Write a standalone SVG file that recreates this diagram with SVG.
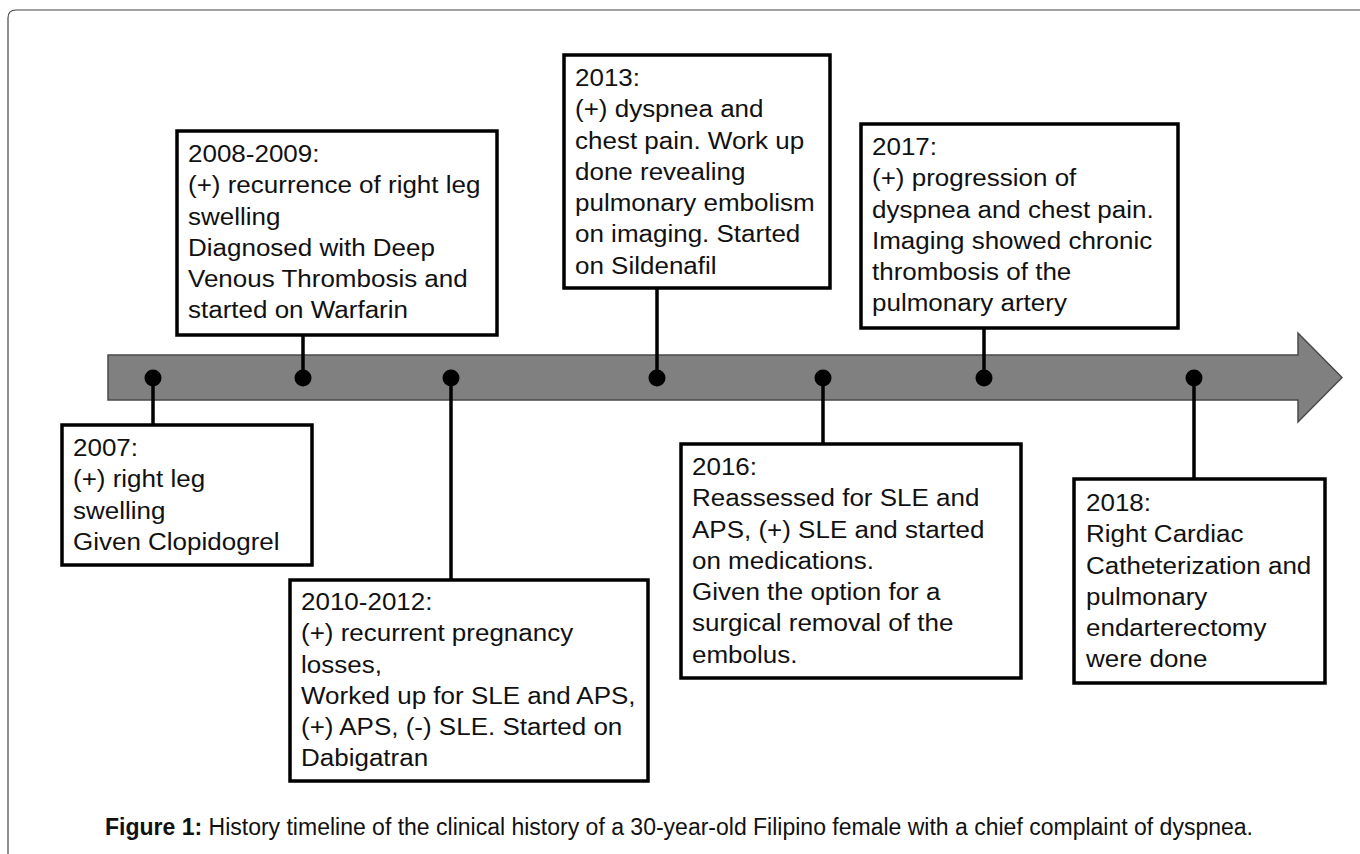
<svg xmlns="http://www.w3.org/2000/svg" width="1360" height="854" viewBox="0 0 1360 854">
<style>
.box{fill:#fff;stroke:#000;stroke-width:3.5}
.t{font-family:"Liberation Sans",Arial,sans-serif;font-size:23px;fill:#111}
.conn line{stroke:#000;stroke-width:3.5}
.dot{fill:#000}
.cap{font-family:"Liberation Sans",Arial,sans-serif;font-size:23px;fill:#111}
</style>
<rect width="1360" height="854" fill="#fff"/>
<path d="M8,854 L8,18 Q8,10 16,10 L1366,10" fill="none" stroke="#444" stroke-width="1.2"/>
<g id="timeline-arrow">
<polygon points="108,355 1298,355 1298,333 1342,377.5 1298,422 1298,400 108,400" fill="#808080" stroke="#4a4a4a" stroke-width="1.5"/>
</g>
<g id="connectors" class="conn">
<line x1="153" y1="378" x2="153" y2="425"/>
<line x1="303" y1="335" x2="303" y2="378"/>
<line x1="451" y1="378" x2="451" y2="580"/>
<line x1="657" y1="288" x2="657" y2="378"/>
<line x1="823" y1="378" x2="823" y2="444"/>
<line x1="984" y1="328" x2="984" y2="378"/>
<line x1="1194" y1="378" x2="1194" y2="479"/>
<circle class="dot" cx="153" cy="378" r="8.5"/>
<circle class="dot" cx="303" cy="378" r="8.5"/>
<circle class="dot" cx="451" cy="378" r="8.5"/>
<circle class="dot" cx="657" cy="378" r="8.5"/>
<circle class="dot" cx="823" cy="378" r="8.5"/>
<circle class="dot" cx="984" cy="378" r="8.5"/>
<circle class="dot" cx="1194" cy="378" r="8.5"/>
</g>
<g id="n2007">
<rect class="box" x="62" y="425" width="250" height="140"/>
<text class="t" transform="translate(73,0) scale(1.13,1)"><tspan x="0" y="456">2007:</tspan><tspan x="0" y="487.3">(+) right leg</tspan><tspan x="0" y="518.6">swelling</tspan><tspan x="0" y="549.9">Given Clopidogrel</tspan></text>
</g>
<g id="n2008">
<rect class="box" x="177" y="131" width="320" height="204"/>
<text class="t" transform="translate(188,0) scale(1.13,1)"><tspan x="0" y="162">2008-2009:</tspan><tspan x="0" y="193.3">(+) recurrence of right leg</tspan><tspan x="0" y="224.6">swelling</tspan><tspan x="0" y="255.9">Diagnosed with Deep</tspan><tspan x="0" y="287.2">Venous Thrombosis and</tspan><tspan x="0" y="318.5">started on Warfarin</tspan></text>
</g>
<g id="n2010">
<rect class="box" x="290" y="580" width="358" height="201"/>
<text class="t" transform="translate(301,0) scale(1.13,1)"><tspan x="0" y="610">2010-2012:</tspan><tspan x="0" y="641.3">(+) recurrent pregnancy</tspan><tspan x="0" y="672.6">losses,</tspan><tspan x="0" y="703.9">Worked up for SLE and APS,</tspan><tspan x="0" y="735.2">(+) APS, (-) SLE. Started on</tspan><tspan x="0" y="766.5">Dabigatran</tspan></text>
</g>
<g id="n2013">
<rect class="box" x="564" y="55" width="266" height="233"/>
<text class="t" transform="translate(575,0) scale(1.13,1)"><tspan x="0" y="86">2013:</tspan><tspan x="0" y="117.3">(+) dyspnea and</tspan><tspan x="0" y="148.6">chest pain. Work up</tspan><tspan x="0" y="179.9">done revealing</tspan><tspan x="0" y="211.2">pulmonary embolism</tspan><tspan x="0" y="242.5">on imaging. Started</tspan><tspan x="0" y="273.8">on Sildenafil</tspan></text>
</g>
<g id="n2016">
<rect class="box" x="681" y="444" width="340" height="234"/>
<text class="t" transform="translate(692,0) scale(1.13,1)"><tspan x="0" y="475">2016:</tspan><tspan x="0" y="506.3">Reassessed for SLE and</tspan><tspan x="0" y="537.6">APS, (+) SLE and started</tspan><tspan x="0" y="568.9">on medications.</tspan><tspan x="0" y="600.2">Given the option for a</tspan><tspan x="0" y="631.5">surgical removal of the</tspan><tspan x="0" y="662.8">embolus.</tspan></text>
</g>
<g id="n2017">
<rect class="box" x="861" y="124" width="317" height="204"/>
<text class="t" transform="translate(872,0) scale(1.13,1)"><tspan x="0" y="155">2017:</tspan><tspan x="0" y="186.3">(+) progression of</tspan><tspan x="0" y="217.6">dyspnea and chest pain.</tspan><tspan x="0" y="248.9">Imaging showed chronic</tspan><tspan x="0" y="280.2">thrombosis of the</tspan><tspan x="0" y="311.5">pulmonary artery</tspan></text>
</g>
<g id="n2018">
<rect class="box" x="1074" y="479" width="251" height="204"/>
<text class="t" transform="translate(1086,0) scale(1.13,1)"><tspan x="0" y="511">2018:</tspan><tspan x="0" y="542.3">Right Cardiac</tspan><tspan x="0" y="573.6">Catheterization and</tspan><tspan x="0" y="604.9">pulmonary</tspan><tspan x="0" y="636.2">endarterectomy</tspan><tspan x="0" y="667.5">were done</tspan></text>
</g>
<g id="caption">
<text class="cap" x="105" y="835"><tspan font-weight="bold">Figure 1:</tspan> History timeline of the clinical history of a 30-year-old Filipino female with a chief complaint of dyspnea.</text>
</g>
</svg>
